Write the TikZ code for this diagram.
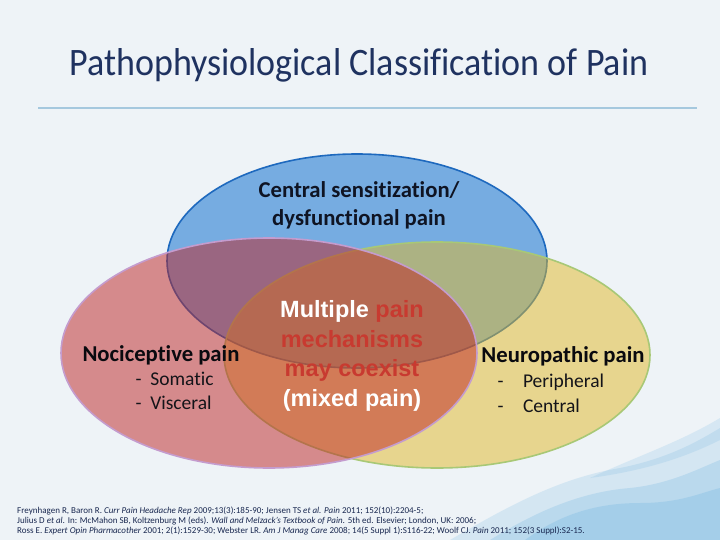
\documentclass[tikz,border=0pt]{standalone}
\usepackage{fontspec}
\setmainfont{Carlito}[Ligatures=NoCommon]
\newfontfamily\arialf{Liberation Sans}
\begin{document}
\begin{tikzpicture}[x=1pt,y=-1pt,
  bluefill/.style={fill={rgb,255:red,118;green,172;blue,225}},
  blueline/.style={draw={rgb,255:red,30;green,105;blue,190},line width=1.6pt},
  yellowfill/.style={fill={rgb,255:red,226;green,184;blue,38},fill opacity=0.5},
  yellowline/.style={draw={rgb,255:red,168;green,200;blue,118},line width=1.6pt},
  pinkfill/.style={fill={rgb,255:red,190;green,34;blue,34},fill opacity=0.5},
  pinkline/.style={draw={rgb,255:red,196;green,156;blue,206},line width=1.6pt},
  lbl/.style={font=\fontsize{22.7}{26}\selectfont\bfseries,text={rgb,255:red,10;green,10;blue,15}},
  sub/.style={font=\fontsize{19.5}{24}\selectfont,text={rgb,255:red,20;green,20;blue,25},align=left},
  ctr/.style={font=\arialf\bfseries\fontsize{23.5}{29.5}\selectfont,align=center,text=white},
  refs/.style={font=\fontsize{9}{10}\selectfont,text={rgb,255:red,25;green,40;blue,80},anchor=west,inner sep=0pt}
]
\definecolor{bg}{RGB}{238,243,247}
\definecolor{navy}{RGB}{31,50,96}
\definecolor{rule}{RGB}{165,200,222}
\definecolor{mred}{RGB}{200,58,48}
\definecolor{wash}{RGB}{110,180,225}
\fill[bg] (0,0) rectangle (720,540);
\useasboundingbox (0,0) rectangle (720,540);

% watercolor wash
\begin{scope}
\fill[wash,opacity=0.20] (450,540) .. controls (510,505) and (560,478) .. (620,468) .. controls (670,458) and (700,440) .. (720,428) -- (720,540) -- cycle;
\fill[wash,opacity=0.25] (490,540) .. controls (535,512) and (580,492) .. (630,488) .. controls (670,484) and (700,468) .. (720,460) -- (720,540) -- cycle;
\fill[wash,opacity=0.28] (525,540) .. controls (555,518) and (590,503) .. (640,503) .. controls (680,503) and (700,493) .. (720,488) -- (720,540) -- cycle;
\fill[wash,opacity=0.18] (590,478) .. controls (640,455) and (680,442) .. (720,418) -- (720,440) .. controls (690,455) and (650,470) .. (590,478) -- cycle;
\end{scope}

% title
\node[font=\fontsize{36}{40}\selectfont,text=navy,yscale=1.08] (title) at (359,65) {Pathophysiological Classification of Pain};
\coordinate (ruleL) at (38,108);
\coordinate (ruleR) at (697,108);
\draw[rule,line width=1.8pt] (ruleL) -- (ruleR);

% ellipses
\path[bluefill] (357,261) ellipse [x radius=190pt, y radius=107pt];
\path[blueline] (357,261) ellipse [x radius=190pt, y radius=107pt];
\path[yellowfill] (437,355) ellipse [x radius=213pt, y radius=113pt];
\path[yellowline] (437,355) ellipse [x radius=213pt, y radius=113pt];
\path[pinkfill] (269,353) ellipse [x radius=208pt, y radius=115pt];
\path[pinkline] (269,353) ellipse [x radius=208pt, y radius=115pt];

% labels
\node[font=\fontsize{22.7}{28}\selectfont\bfseries,text={rgb,255:red,15;green,20;blue,35},align=center] (cs) at (359,205) {Central sensitization/\\dysfunctional pain};

\node[lbl] (noci) at (161,355) {Nociceptive pain};
\node[sub,anchor=west] (somatic) at (132,379) {-\ \ Somatic};
\node[sub,anchor=west] (visceral) at (132,403) {-\ \ Visceral};

\node[lbl] (neuro) at (563,356) {Neuropathic pain};
\node[sub,anchor=west] (periph) at (494,382) {-\hspace{1.0em}Peripheral};
\node[sub,anchor=west] (central) at (494,406) {-\hspace{1.0em}Central};

\node[ctr] (mult) at (352,356) {Multiple \textcolor{mred}{pain}\\\textcolor{mred}{mechanisms}\\\textcolor{mred}{may coexist}\\(mixed pain)};

% references
\node[refs] (r1) at (17,511) {Freynhagen R, Baron R. \textit{Curr Pain Headache Rep} 2009;13(3):185-90; Jensen TS \textit{et al. Pain} 2011; 152(10):2204-5;};
\node[refs] (r2) at (17,521) {Julius D \textit{et al.} In: McMahon SB, Koltzenburg M (eds). \textit{Wall and Melzack's Textbook of Pain.} 5th ed. Elsevier; London, UK: 2006;};
\node[refs] (r3) at (17,531) {Ross E. \textit{Expert Opin Pharmacother} 2001; 2(1):1529-30; Webster LR. \textit{Am J Manag Care} 2008; 14(5 Suppl 1):S116-22; Woolf CJ. \textit{Pain} 2011; 152(3 Suppl):S2-15.};
\end{tikzpicture}
\end{document}
